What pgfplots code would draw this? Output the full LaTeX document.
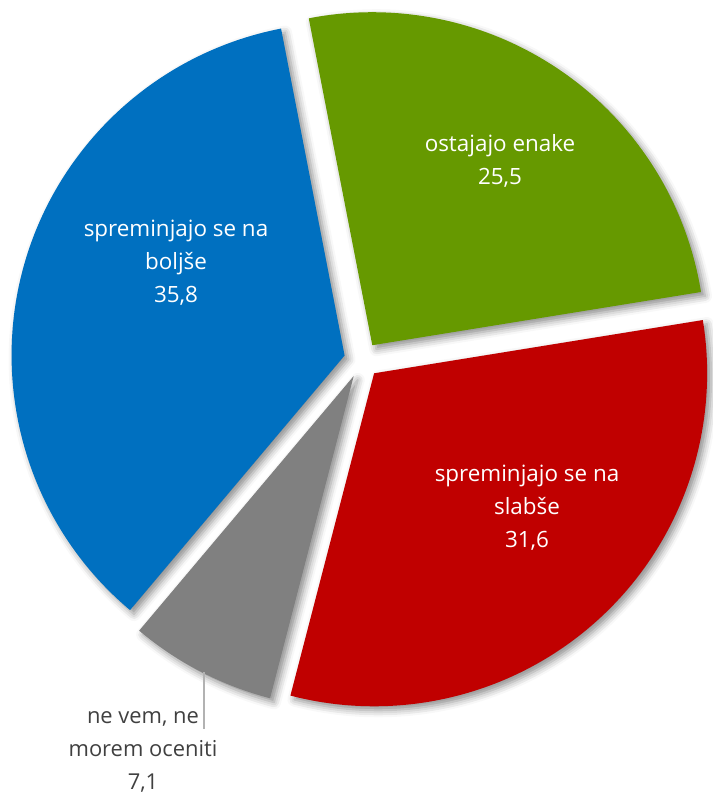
\documentclass[border=0pt]{standalone}
\usepackage{pgfplots}
\pgfplotsset{compat=1.18}
\usepackage{pgfplotstable}
\usepackage{fontspec}
\setmainfont{Open Sans}
\usetikzlibrary{shadows.blur}

\definecolor{cgreen}{HTML}{669900}
\definecolor{cred}{HTML}{C00000}
\definecolor{cgray}{HTML}{808080}
\definecolor{cblue}{HTML}{0070C0}
\definecolor{ctext}{HTML}{404040}

% shares in percent, clockwise from the top
\pgfplotstableread[col sep=comma]{
value,color
25.5,cgreen
31.6,cred
7.1,cgray
35.8,cblue
}\piedata

\begin{document}
\begin{tikzpicture}
\begin{axis}[
  width=713bp, height=798bp, scale only axis,
  xmin=0, xmax=713, ymin=0, ymax=798,
  hide axis, clip=false,
]
\pgfplotsextra{
  \pgfplotstablegetrowsof{\piedata}
  \pgfmathtruncatemacro\nrows{\pgfplotsretval-1}
  % shadows first
  \xdef\curA{101}
  \foreach \i in {0,...,\nrows}{
    \pgfplotstablegetelem{\i}{value}\of\piedata \let\val\pgfplotsretval
    \pgfmathsetmacro\endA{\curA-3.6*\val}
    \pgfmathsetmacro\midA{(\curA+\endA)/2}
    \path[blur shadow={shadow xshift=4bp, shadow yshift=-4bp, shadow blur radius=7bp, shadow opacity=45}]
      (axis cs:362,438) ++(\midA:18bp) -- ++(\curA:333bp)
      arc[start angle=\curA, end angle=\endA, radius=333bp] -- cycle;
    \xdef\curA{\endA}
  }
  % slices
  \xdef\curA{101}
  \foreach \i in {0,...,\nrows}{
    \pgfplotstablegetelem{\i}{value}\of\piedata \let\val\pgfplotsretval
    \pgfplotstablegetelem{\i}{color}\of\piedata \let\col\pgfplotsretval
    \pgfmathsetmacro\endA{\curA-3.6*\val}
    \pgfmathsetmacro\midA{(\curA+\endA)/2}
    \fill[\col] (axis cs:362,438) ++(\midA:18bp) -- ++(\curA:333bp)
      arc[start angle=\curA, end angle=\endA, radius=333bp] -- cycle;
    \xdef\curA{\endA}
  }
  \coordinate (bl) at (axis cs:0,0);
  \coordinate (tr) at (axis cs:713,798);
}
\draw[black!30, line width=1.2bp] (axis cs:204,126) -- (axis cs:204,69);
\node[align=center, text=white, font=\fontsize{22.5}{33}\selectfont] at (axis cs:500,637) {ostajajo enake\\25,5};
\node[align=center, text=white, font=\fontsize{22.5}{33}\selectfont] at (axis cs:176,535) {spreminjajo se na\\boljše\\35,8};
\node[align=center, text=white, font=\fontsize{22.5}{33}\selectfont] at (axis cs:527,290) {spreminjajo se na\\slabše\\31,6};
\node[align=center, text=ctext, font=\fontsize{22}{33}\selectfont] at (axis cs:143,46) {ne vem, ne\\morem oceniti\\7,1};
\end{axis}
\pgfresetboundingbox
\path (bl) rectangle (tr);
\end{tikzpicture}
\end{document}
